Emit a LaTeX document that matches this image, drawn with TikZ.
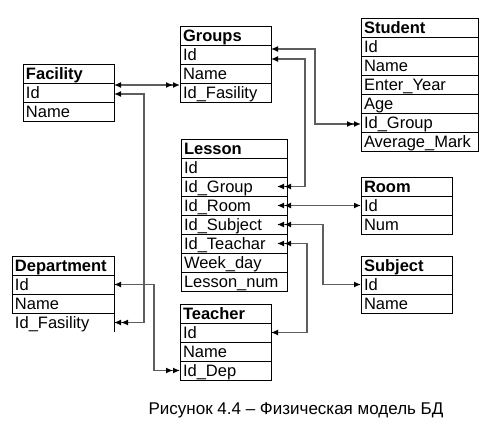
\documentclass[tikz,border=0pt]{standalone}
\usepackage{fontspec}
\setmainfont{Liberation Sans}
\usetikzlibrary{arrows.meta}
\definecolor{link}{HTML}{5E5E5E}

\begin{document}
\begin{tikzpicture}[x=1pt,y=-1pt,
    every node/.style={font=\fontsize{16.5pt}{19pt}\selectfont},
    tabrow/.style={draw,anchor=north west,text width=#1,align=left,inner xsep=3pt,inner ysep=1.75pt,
      text height=13.5pt,text depth=2pt,outer sep=0pt,line width=0.9pt},
    tabhead/.style={tabrow=#1,font=\fontsize{16.5pt}{19pt}\selectfont\bfseries},
    wire/.style={draw=link,line width=1.3pt},
    >={Latex[length=7pt,width=6pt,color=black]}]
        \useasboundingbox (0,0) rectangle (491,426);
        % tables
        \foreach \t/\x/\y/\w/\h/\r in {fac/23/64/85/Facility/{Id,Name},
            grp/180/26/85/Groups/{Id,Name,Id\_Fasility},
            stu/361/18/111/Student/{Id,Name,Enter\_Year,Age,Id\_Group,Average\_Mark},
            les/181/139/100/Lesson/{Id,Id\_Group,Id\_Room,Id\_Subject,Id\_Teachar,Week\_day,Lesson\_num},
            room/361/177/85/Room/{Id,Num},
            subj/361/256/85/Subject/{Id,Name},
            dep/12/256/96/Department/{Id,Name},
            tch/180/304/85/Teacher/{Id,Name,Id\_Dep}}{
          \node[tabhead=\w pt] (\t-0) at (\x,\y) {\h};
          \foreach \f [count=\i] in \r {\node[tabrow=\w pt] (\t-\i) at (\x,{\y+19*\i}) {\f};}
        }
        \node[tabrow=96pt,draw=none] (dep-3) at (12,313) {Id\_Fasility};
        \draw[line width=0.9pt] (dep-3.north east) -- (dep-3.south east);
        % links
        \draw[wire,<->>] ([yshift=7.5pt]fac-1.east) -- ([yshift=7.5pt]grp-3.west);
        \draw[wire,<->>] ([yshift=-1.5pt]fac-1.east) -- ++(30,0) |- (dep-3.east);
        \draw[wire,<->>] ([yshift=5.5pt]grp-1.east) -- ++(44,0) |- ([yshift=-1.5pt]stu-5.west);
        \draw[wire,<->>] ([yshift=-4.5pt]grp-1.east) -- ++(34,0) |- ([xshift=-10pt]les-2.east);
        \draw[wire,<<->] ([xshift=-10pt]les-3.east) -- (room-1.west);
        \draw[wire,<<->] ([xshift=-10pt]les-4.east) -- ([xshift=36pt]les-4.east) |- (subj-1.west);
        \draw[wire,<<->] ([xshift=-10pt]les-5.east) -- ([xshift=20pt]les-5.east) |- (tch-1.east);
        \draw[wire,<->>] (dep-1.east) -- ++(40,0) |- (tch-3.west);
        \node[font=\fontsize{17pt}{20pt}\selectfont] (cap) at (296,410) {Рисунок 4.4 – Физическая модель БД};
      \end{tikzpicture}
\end{document}
